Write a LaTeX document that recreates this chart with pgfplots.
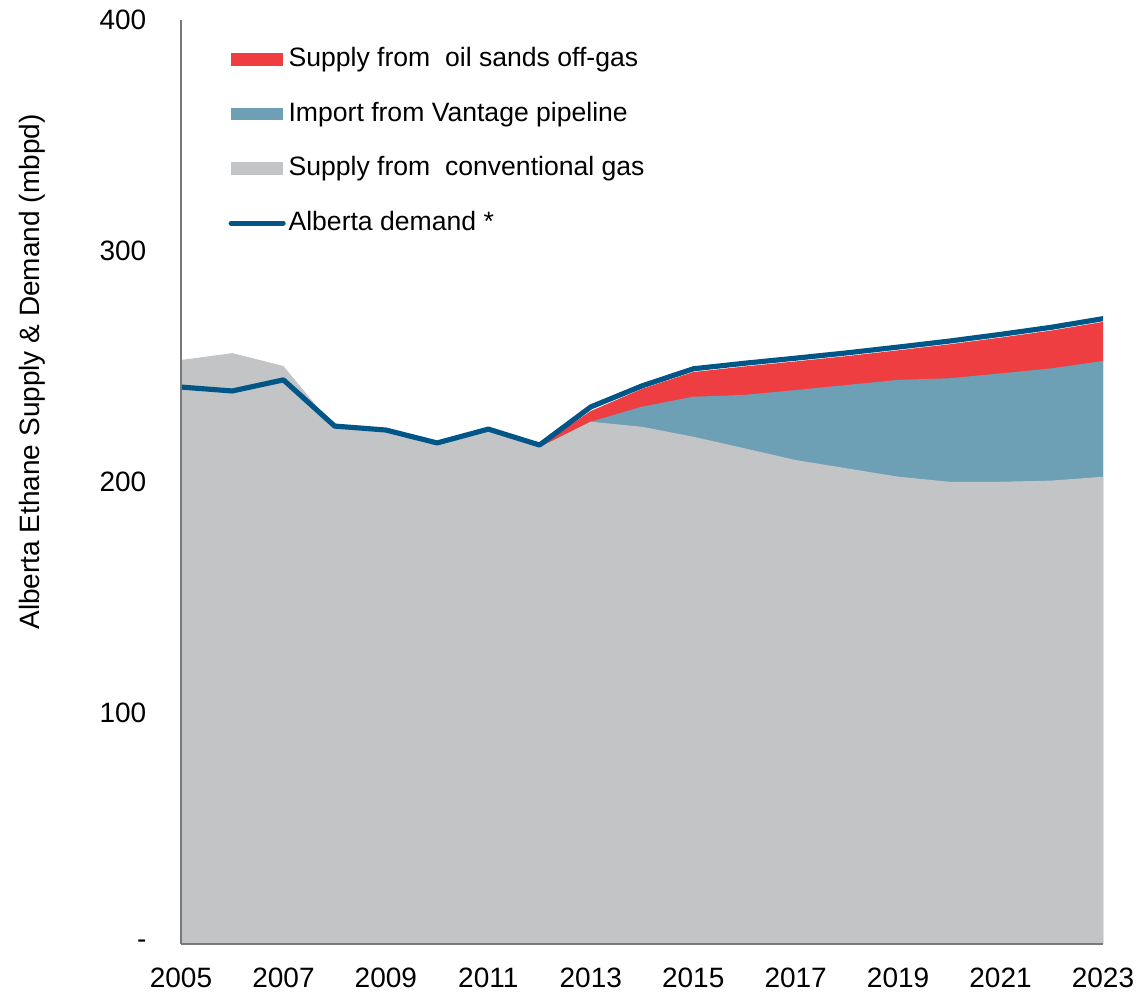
\documentclass[border=0pt]{standalone}
\usepackage{fontspec}
\setmainfont{Liberation Sans}
\usepackage{pgfplots}
\pgfplotsset{compat=1.18}

\definecolor{oilred}{RGB}{239,62,66}
\definecolor{vantage}{RGB}{109,160,181}
\definecolor{convgray}{RGB}{195,196,198}
\definecolor{demand}{RGB}{0,86,135}
\definecolor{axisgray}{RGB}{120,120,120}

\begin{document}
\begin{tikzpicture}
% page frame: 1140 x 993 px at 0.35pt per px, axis origin at (181,944)
\useasboundingbox (-63.35pt,-17.15pt) rectangle (335.65pt,330.4pt);
\begin{axis}[
    at={(0,0)}, anchor=south west,
    scale only axis,
    width=322.7pt, height=323.4pt,
    xmin=2005, xmax=2023,
    ymin=0, ymax=400,
    axis on top,
    axis x line=bottom, axis y line=left,
    axis line style={axisgray, line width=0.6pt, -},
    xtick={2005,2007,...,2023},
    ytick={0,100,200,300,400},
    yticklabels={-,100,200,300,400},
    major tick length=0pt,
    /pgf/number format/1000 sep={},
    /pgf/number format/assume math mode=true,
    tick label style={font=\fontsize{9.8}{11.8}\selectfont, black},
    xticklabel style={yshift=-5pt},
    yticklabel style={xshift=-8.6pt},
    ylabel={Alberta Ethane Supply \& Demand (mbpd)},
    ylabel style={at={(axis description cs:-0.1616,0.619)}, anchor=center,
                  font=\fontsize{9.8}{11.8}\selectfont},
    legend cell align=left,
    legend style={
        at={(0.051,0.975)}, anchor=north west,
        draw=none, fill=none, inner sep=0pt,
        font=\fontsize{9.3}{11}\selectfont,
        nodes={text height=7pt, text depth=2pt, inner sep=1pt},
        row sep=8.1pt,
    },
    area image/.style={legend image code/.code={
        \fill[##1] (0pt,-2.25pt) rectangle (18.2pt,2.25pt);}},
    line image/.style={legend image code/.code={
        \draw[##1] (0pt,0pt) -- (18.2pt,0pt);}},
]

% top of oil sands off-gas (cumulative)
\addplot[fill=oilred, draw=none, area image] coordinates {
(2012,215.5) (2013,230.7) (2014,240.3) (2015,247.6) (2016,250.0)
(2017,252.2) (2018,254.5) (2019,257.0) (2020,259.6) (2021,262.5)
(2022,265.6) (2023,269.3)
} \closedcycle;

% top of Vantage import (cumulative)
\addplot[fill=vantage, draw=none, area image] coordinates {
(2012,215.0) (2013,226.1) (2014,232.6) (2015,236.9) (2016,237.7)
(2017,239.8) (2018,242.0) (2019,244.2) (2020,244.9) (2021,247.0)
(2022,249.2) (2023,252.4)
} \closedcycle;

% conventional gas
\addplot[fill=convgray, draw=none, area image] coordinates {
(2005,252.8) (2006,255.8) (2007,250.2) (2008,223.4) (2009,221.6)
(2010,216.9) (2011,223.0) (2012,215.0) (2013,226.1) (2014,223.9)
(2015,219.6) (2016,214.6) (2017,209.5) (2018,205.9) (2019,202.3)
(2020,200.1) (2021,200.1) (2022,200.6) (2023,202.3)
} \closedcycle;

% demand
\addplot[demand, line width=1.8pt, line cap=round, line join=round, line image] coordinates {
(2005,241.1) (2006,239.4) (2007,244.2) (2008,224.2) (2009,222.5)
(2010,216.9) (2011,222.9) (2012,216.0) (2013,232.5) (2014,241.6)
(2015,249.0) (2016,251.4) (2017,253.6) (2018,255.9) (2019,258.4)
(2020,261.0) (2021,263.9) (2022,267.0) (2023,270.7)
};

\legend{Supply from\ \ oil sands off-gas, Import from Vantage pipeline,
        Supply from\ \ conventional gas, Alberta demand *}
\end{axis}
\end{tikzpicture}
\end{document}
